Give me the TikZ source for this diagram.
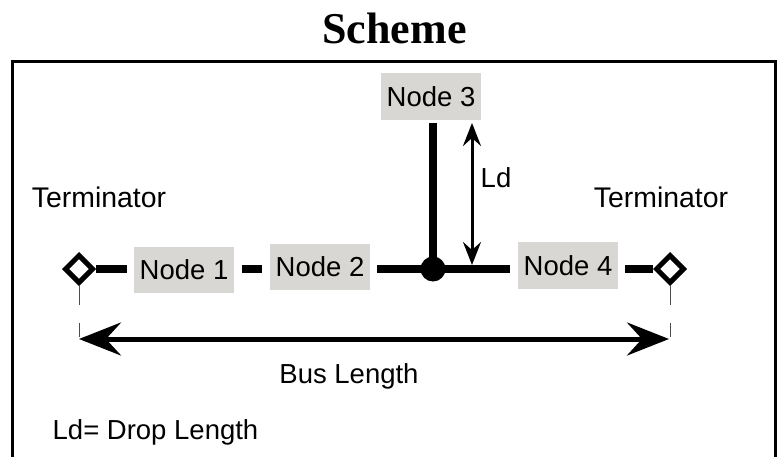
\documentclass[tikz,border=0pt]{standalone}
\usepackage{fontspec}
\setmainfont{Liberation Sans}
\newfontfamily\titlefont{Liberation Serif}
\usetikzlibrary{arrows.meta,shapes.geometric,calc}
\definecolor{nodegrey}{HTML}{D8D7D3}
\tikzset{
  x=1pt,y=-1pt,
  busnode/.style={fill=nodegrey,minimum width=100pt,minimum height=46.5pt,inner sep=0pt,font=\fontsize{27.5}{30}\selectfont},
  label/.style={inner sep=0pt,font=\fontsize{27.5}{30}\selectfont},
  termlabel/.style={inner sep=0pt,font=\fontsize{28.4}{30}\selectfont},
  term/.style={draw=black,fill=white,diamond,aspect=1,line width=5pt,minimum width=29pt,minimum height=29pt,inner sep=0pt},
  busline/.style={line width=8pt},
  thin tick/.style={line width=1pt,draw=black!70},
  bigarrow/.style={line width=5pt,{Stealth[length=42pt,width=33pt,inset=15pt]}-{Stealth[length=42pt,width=33pt,inset=15pt]},shorten <=-1pt,shorten >=-1pt},
  droparrow/.style={line width=3pt,{Stealth[length=23pt,width=18pt,inset=8pt]}-{Stealth[length=23pt,width=18pt,inset=8pt]}},
}
\begin{document}
\begin{tikzpicture}
\useasboundingbox (0,0) rectangle (781,457);
\draw[line width=3pt] (12,457) -- (12,62) -- (775,62) -- (775,457);
\node[inner sep=0pt,font=\titlefont\bfseries\fontsize{44}{48}\selectfont] (title) at (394.5,28) {Scheme};

\node[busnode] (n1) at (184,270) {Node 1};
\node[busnode] (n2) at (320,267) {Node 2};
\node[busnode] (n3) at (431,96.5) {Node 3};
\node[busnode] (n4) at (568,265.5) {Node 4};
\node[term] (tl) at (79,269) {};
\node[term] (tr) at (670,269) {};
\node[circle,fill=black,minimum size=25pt,inner sep=0pt] (j) at (433,269) {};

\coordinate (bus) at (0,269);
\draw[busline] (tl.east) -- ($(n1.west |- bus)+(-7,0)$);
\draw[busline] ($(n1.east |- bus)+(8,0)$) -- ($(n2.west |- bus)+(-8,0)$);
\draw[busline] ($(n2.east |- bus)+(7,0)$) -- (j.center);
\draw[busline] (j.center) -- ($(n4.west |- bus)+(-8,0)$);
\draw[busline] ($(n4.east |- bus)+(7,0)$) -- (tr.west);
\coordinate (dropTop) at (433,123);
\draw[busline] (dropTop) -- (j.center);

\coordinate (ldTop) at (472,123);
\coordinate (ldBot) at (472,265);
\draw[droparrow] (ldTop) -- (ldBot);

\coordinate (al) at (80,339);
\coordinate (ar) at (668,339);
\draw[bigarrow] (al) -- (ar);

\coordinate (t1a) at (79,286); \coordinate (t1b) at (79,305);
\coordinate (t2a) at (79,323); \coordinate (t2b) at (79,337);
\coordinate (t3a) at (670,286); \coordinate (t3b) at (670,305);
\coordinate (t4a) at (670,323); \coordinate (t4b) at (670,337);
\draw[thin tick] (t1a) -- (t1b);
\draw[thin tick] (t2a) -- (t2b);
\draw[thin tick] (t3a) -- (t3b);
\draw[thin tick] (t4a) -- (t4b);

\node[termlabel] (tlabl) at (99,197) {Terminator};
\node[termlabel] (tlabr) at (661,197) {Terminator};
\node[label] (ld) at (496,178) {Ld};
\node[label] (bl) at (349,376) {Bus Length};
\node[label] (dl) at (155.5,432) {Ld= Drop Length};
\end{tikzpicture}
\end{document}
